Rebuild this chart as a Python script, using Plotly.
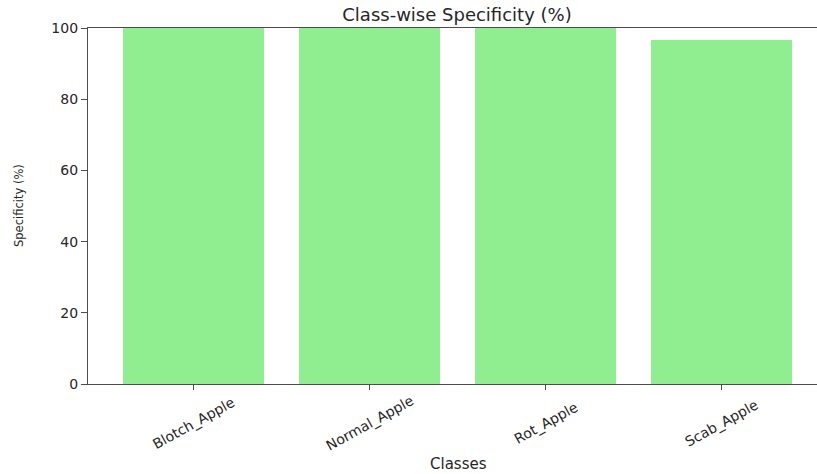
import plotly.graph_objects as go

categories = ["Blotch_Apple", "Normal_Apple", "Rot_Apple", "Scab_Apple"]
specificity = [100.0, 100.0, 100.0, 96.7]
y_ticks = [0, 20, 40, 60, 80, 100]

FONT = "DejaVu Sans, Verdana, sans-serif"
TXT = "#262626"
AX = "#4d4d4d"

W, H = 817, 474
L, R, T, B = 88, 0, 28, 90
plot_h = H - T - B

fig = go.Figure()
fig.add_trace(go.Bar(
    x=list(range(len(categories))),
    y=specificity,
    width=0.8,
    marker=dict(color="#90EE90", line=dict(width=0)),
    hoverinfo="skip",
))

# rotated, centred category labels (matplotlib style rotation, centred on tick)
for i, c in enumerate(categories):
    fig.add_annotation(
        x=i, xref="x", y=(384 - 423) / plot_h, yref="paper",
        text=c, textangle=-29, showarrow=False,
        xanchor="center", yanchor="middle",
        font=dict(family=FONT, size=14, color=TXT),
    )

fig.add_annotation(
    x=(458 - L) / (W - L - R), xref="paper", y=(384 - 464) / plot_h, yref="paper",
    text="Classes", showarrow=False, xanchor="center", yanchor="middle",
    font=dict(family=FONT, size=15, color=TXT),
)
fig.add_annotation(
    x=(19 - L) / (W - L - R), xref="paper", y=0.5, yref="paper",
    text="Specificity (%)", textangle=-90, showarrow=False,
    xanchor="center", yanchor="middle",
    font=dict(family=FONT, size=11.5, color=TXT),
)

px_per_cat = 176.0
xmax = -0.6 + (W - L - R) / px_per_cat

fig.update_layout(
    width=W, height=H,
    margin=dict(l=L, r=R, t=T, b=B, pad=0),
    paper_bgcolor="white", plot_bgcolor="white",
    showlegend=False,
    bargap=0,
    title=dict(
        text="Class-wise Specificity (%)",
        x=457 / W, xref="container", xanchor="center",
        y=1 - 15 / H, yref="container", yanchor="middle",
        font=dict(family=FONT, size=18, color=TXT),
    ),
    xaxis=dict(
        range=[-0.6, xmax],
        tickmode="array", tickvals=list(range(len(categories))),
        showticklabels=False,
        ticks="outside", ticklen=5, tickwidth=1, tickcolor=AX,
        showline=True, linecolor=AX, linewidth=1.2, mirror=True,
        showgrid=False, zeroline=False, fixedrange=True,
    ),
    yaxis=dict(
        range=[0, 100],
        tickmode="array", tickvals=y_ticks, ticktext=[str(v) for v in y_ticks],
        ticks="outside", ticklen=6, tickwidth=1, tickcolor=AX,
        tickfont=dict(family=FONT, size=14, color=TXT),
        showline=True, linecolor=AX, linewidth=1.2,
        showgrid=False, zeroline=False, fixedrange=True,
    ),
)

fig.write_html(
    "out.html",
    config={"displayModeBar": False},
    post_script="document.body.style.margin='0';document.body.style.overflow='hidden';",
)
